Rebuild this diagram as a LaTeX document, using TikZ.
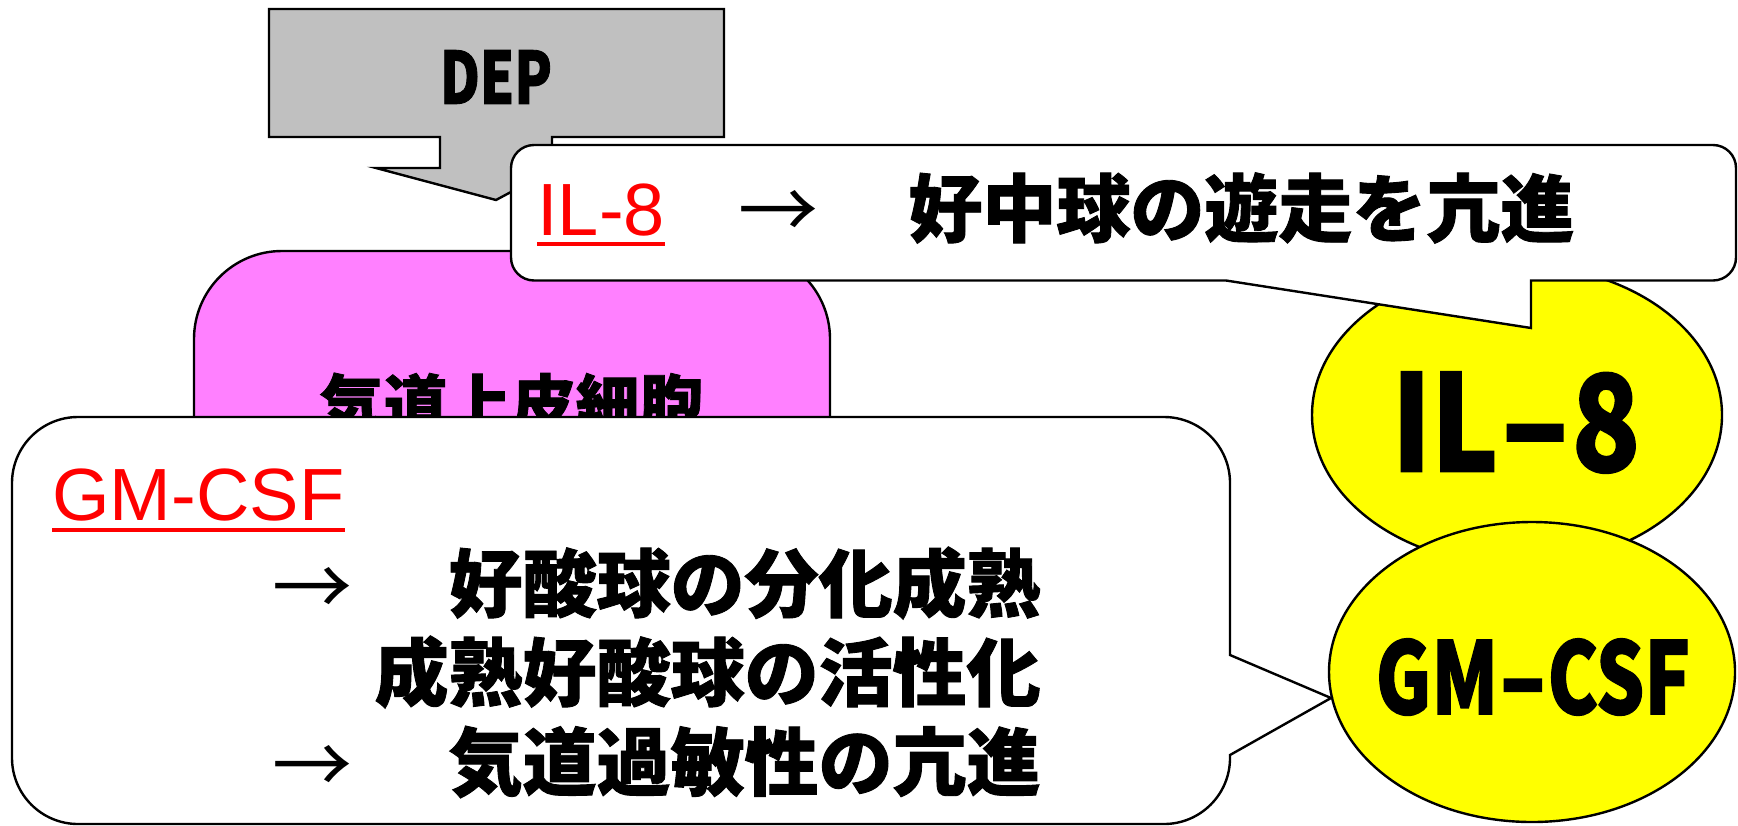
\documentclass[tikz,border=0pt]{standalone}
\usepackage{fontspec}
\usepackage{graphicx}
\usetikzlibrary{shapes.geometric}
\newfontfamily\jp{Noto Sans CJK JP}[BoldFeatures={FakeBold=1.2}]
\newfontfamily\jpcondA{Noto Sans CJK JP}[FakeStretch=0.76, BoldFeatures={FakeBold=1.2}]
\newfontfamily\jpcondB{Noto Sans CJK JP}[FakeStretch=0.84, BoldFeatures={FakeBold=1.2}]
\newfontfamily\lat{Liberation Sans}
\newcommand{\longdash}{\scalebox{1.7}[1]{-}}
\definecolor{boxgray}{RGB}{192,192,192}
\definecolor{boxpink}{RGB}{255,128,255}
\definecolor{boxyellow}{RGB}{255,255,0}
\definecolor{labred}{RGB}{255,0,0}
\begin{document}
\begin{tikzpicture}[x=0.5pt,y=-0.5pt,
  outline/.style={draw=black, line width=1.2pt, line join=miter},
  kanji/.style={inner sep=0pt, font=\jp\bfseries\fontsize{37}{40}\selectfont},
  arrowtxt/.style={inner sep=0pt, font=\jp\fontsize{40}{42}\selectfont},
  redlab/.style={inner sep=0pt, text=labred, font=\lat\fontsize{37}{40}\selectfont},
  redline/.style={draw=labred, line width=2pt},
  yellipse/.style={ellipse, outline, fill=boxyellow, inner sep=0pt}]
\useasboundingbox (0,0) rectangle (1738,825);

% DEP callout
\path[outline, fill=boxgray] (269,9) -- (724,9) -- (724,137) -- (552,137) -- (552,170)
  -- (496,200) -- (376,168) -- (440,168) -- (440,137) -- (269,137) -- cycle;
\node[inner sep=0pt, font=\jpcondA\bfseries\fontsize{36}{40}\selectfont] (dep) at (496,77) {DEP};

% pink box
\path[outline, fill=boxpink, rounded corners=44pt] (194,251) rectangle (830,640);
\node[inner sep=0pt, font=\jp\bfseries\fontsize{32}{36}\selectfont] (cell) at (511.5,404) {気道上皮細胞};

% ellipses
\node[yellipse, minimum width=205pt, minimum height=150pt] (il8e) at (1517,415) {};
\node[inner sep=0pt, font=\jpcondB\bfseries\fontsize{67}{70}\selectfont] (il8t) at (1516,422.5) {IL\longdash 8};
\node[yellipse, minimum width=203pt, minimum height=150pt] (gme) at (1532,672) {};
\node[inner sep=0pt, font=\jpcondA\bfseries\fontsize{50}{54}\selectfont] (gmt) at (1533,677) {GM\longdash CSF};

% IL-8 callout
\path[outline, fill=white] (534,145) -- (1713,145) .. controls (1725.7,145) and (1736,155.3) .. (1736,168)
  -- (1736,257.5) .. controls (1736,270.2) and (1725.7,280.5) .. (1713,280.5)
  -- (1531,280.5) -- (1531,328) -- (1226,280.5)
  -- (534,280.5) .. controls (521.3,280.5) and (511,270.2) .. (511,257.5)
  -- (511,168) .. controls (511,155.3) and (521.3,145) .. (534,145) -- cycle;
\node[redlab, anchor=base west] (il8lab) at (537,235) {IL-8};
\draw[redline] ([yshift=-4.5pt]il8lab.base west) -- ([yshift=-4.5pt]il8lab.base east);
\node[arrowtxt] (arr1) at (778,215) {→};
\node[kanji, anchor=west] (il8txt) at (908,208) {好中球の遊走を亢進};

% GM-CSF callout
\path[outline, fill=white] (78,417) -- (1164,417) .. controls (1200.4,417) and (1230,446.6) .. (1230,483)
  -- (1230,655) -- (1331,698) -- (1230,755)
  -- (1230,758) .. controls (1230,794.4) and (1200.4,824) .. (1164,824)
  -- (78,824) .. controls (41.6,824) and (12,794.4) .. (12,758)
  -- (12,483) .. controls (12,446.6) and (41.6,417) .. (78,417) -- cycle;
\node[redlab, anchor=base west] (gmlab) at (52,520) {GM-CSF};
\draw[redline] ([yshift=-5pt]gmlab.base west) -- ([yshift=-5pt]gmlab.base east);
\node[arrowtxt] (arr2) at (312,592) {→};
\node[kanji, anchor=east] (l1) at (1041,583) {好酸球の分化成熟};
\node[kanji, anchor=east] (l2) at (1041,672) {成熟好酸球の活性化};
\node[arrowtxt] (arr3) at (312,770) {→};
\node[kanji, anchor=east] (l3) at (1041,762) {気道過敏性の亢進};
\end{tikzpicture}
\end{document}
